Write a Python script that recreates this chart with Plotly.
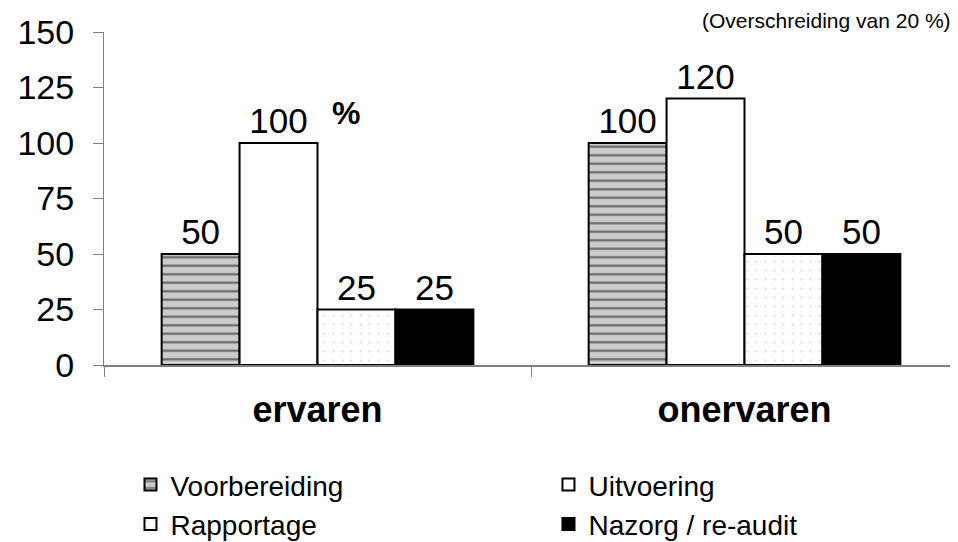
import plotly.graph_objects as go

categories = ["ervaren", "onervaren"]
series_names = ["Voorbereiding", "Uitvoering", "Rapportage", "Nazorg / re-audit"]
voorbereiding = [50, 100]
uitvoering = [100, 120]
rapportage = [25, 50]
nazorg = [25, 50]
y_ticks = [0, 25, 50, 75, 100, 125, 150]
note_text = "(Overschreiding van 20 %)"

FONT = "Liberation Sans, Arial, sans-serif"

values = [voorbereiding, uitvoering, rapportage, nazorg]
styles = [
    dict(color="#cccccc", pattern=dict(shape="-", fgcolor="black", bgcolor="#cccccc", size=8.5, solidity=0.25)),
    dict(color="white"),
    dict(color="white", pattern=dict(shape=".", fgcolor="#b0b0b0", bgcolor="white", size=9, solidity=0.04)),
    dict(color="black"),
]

fig = go.Figure()
for name, vals, st in zip(series_names, values, styles):
    marker = dict(st)
    marker["line"] = dict(color="black", width=2)
    fig.add_trace(go.Bar(
        name=name, x=categories, y=vals, marker=marker,
        text=[str(v) for v in vals], textposition="outside",
        textfont=dict(size=35, color="black", family=FONT),
        cliponaxis=False,
    ))

fig.add_annotation(x=0, y=100, xref="x", yref="y", text="<b>%</b>", showarrow=False,
                   xshift=28, yshift=30, font=dict(size=32, color="black", family=FONT))
fig.add_annotation(x=1, y=1.036, xref="paper", yref="paper", text=note_text, showarrow=False,
                   xanchor="right", yanchor="middle", xshift=-5,
                   font=dict(size=21, color="black", family=FONT))

fig.update_layout(
    width=950, height=534,
    margin=dict(l=96, r=0, t=24, b=177, autoexpand=False),
    paper_bgcolor="white", plot_bgcolor="white",
    barmode="group", bargap=0.27, bargroupgap=0,
    font=dict(family=FONT, color="black"),
    showlegend=True,
    legend=dict(orientation="h", x=0.031, y=-0.285, xanchor="left", yanchor="top",
                entrywidth=373, entrywidthmode="pixels",
                font=dict(size=28, color="black", family=FONT),
                bgcolor="rgba(0,0,0,0)", tracegroupgap=0, itemsizing="constant"),
    xaxis=dict(showline=True, linecolor="#808080", linewidth=2, ticks="outside",
               tickson="boundaries", ticklen=10, tickcolor="#808080", tickwidth=1,
               tickfont=dict(size=36, color="black", family=FONT), ticklabelstandoff=12,
               tickvals=categories, ticktext=["<b>%s</b>" % c for c in categories],
               showgrid=False, zeroline=False),
    yaxis=dict(range=[0, 150], tickvals=y_ticks, showline=True, linecolor="#808080", linewidth=1,
               ticks="outside", ticklen=10, tickcolor="#808080", ticklabelstandoff=12,
               tickfont=dict(size=34, color="black", family=FONT),
               showgrid=False, zeroline=False),
)

fig.write_html("out.html")
